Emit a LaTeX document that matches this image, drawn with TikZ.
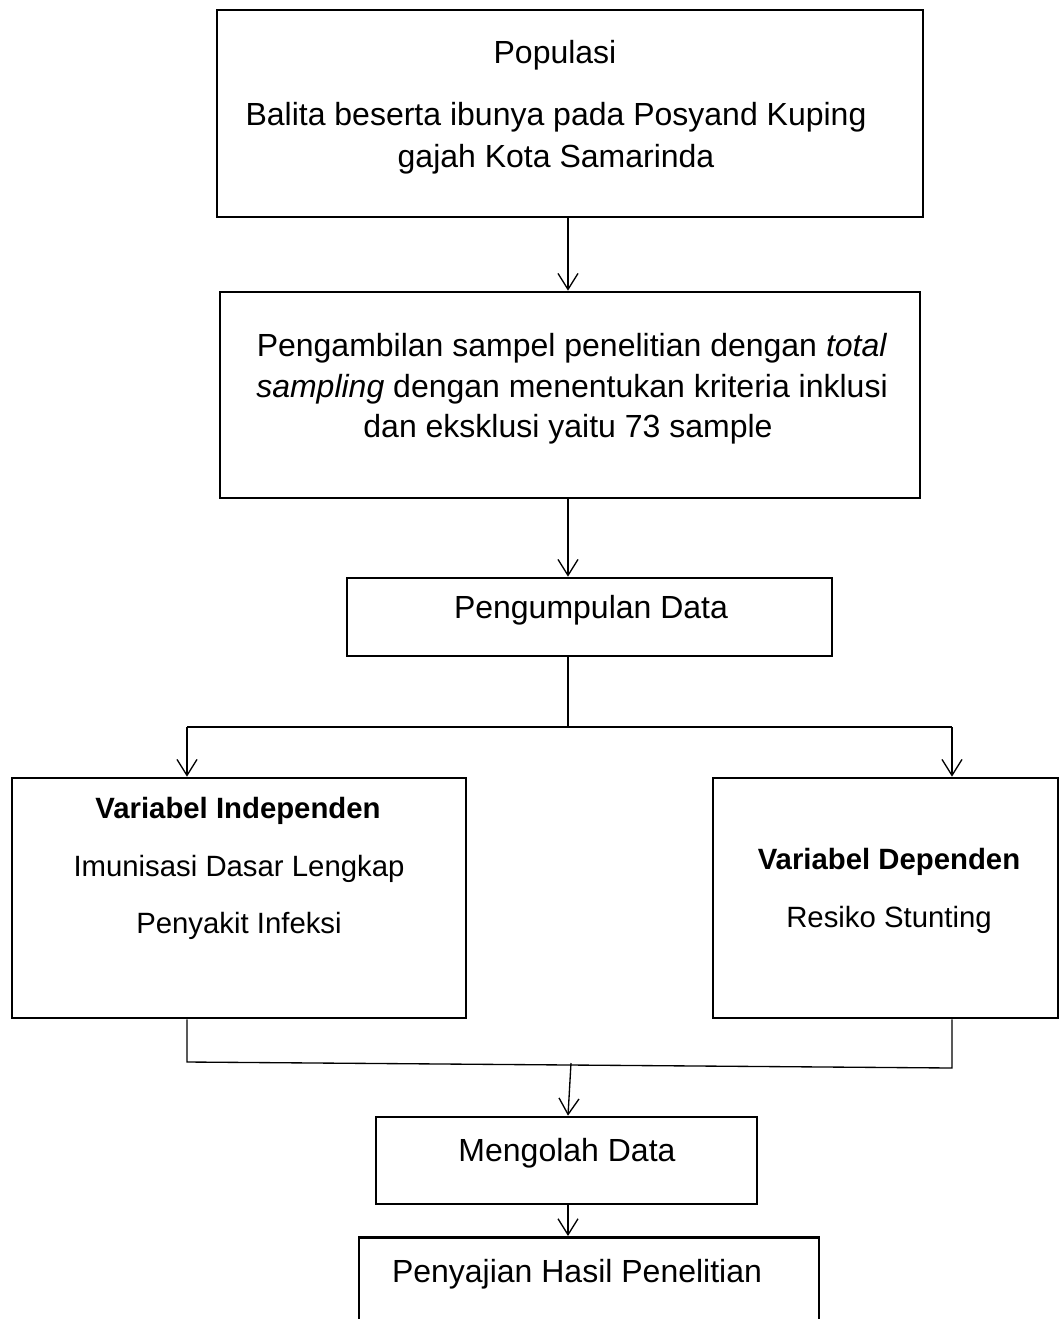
\documentclass[tikz,border=0pt]{standalone}
\usepackage{fontspec}
\setmainfont{Liberation Sans}
\usetikzlibrary{arrows.meta}

% satuan: 1 piksel gambar
\newcommand{\px}{0.375pt}

\tikzset{
    kotak/.style={draw, line width=1pt, inner sep=0pt},
    panah/.style={-{Straight Barb[length=6pt,width=7.5pt]}, line width=0.5pt},
    garis/.style={line width=0.5pt},
    teks/.style={font=\fontsize{12}{14}\selectfont, inner sep=0pt, anchor=base},
    teksvar/.style={font=\fontsize{11}{13}\selectfont, inner sep=0pt, anchor=base}
}

\begin{document}
\begin{tikzpicture}[x=\px, y=-\px]
            \useasboundingbox (0,0) rectangle (1059,1319);
            \clip (0,0) rectangle (1059,1319);

            % kotak-kotak alur
            \node[kotak, minimum width=706*\px, minimum height=207*\px] (populasi) at (570,113.5) {};
            \node[kotak, minimum width=700*\px, minimum height=206*\px] (sampel) at (570,395) {};
            \node[kotak, minimum width=485*\px, minimum height=78*\px] (data) at (589.5,617) {};
            \node[kotak, minimum width=454*\px, minimum height=240*\px] (indep) at (239,898) {};
            \node[kotak, minimum width=345*\px, minimum height=240*\px] (dep) at (885.5,898) {};
            \node[kotak, minimum width=381*\px, minimum height=87*\px] (olah) at (566.5,1160.5) {};
            \node[kotak, minimum width=460*\px, minimum height=150*\px, anchor=north] (saji) at (589,1236) {}; % terpotong di bawah

            % titik bantu
            \coordinate (poros) at (568,0);
            \coordinate (cabang) at (568,727);
            \coordinate (kiri) at (187,727);
            \coordinate (kanan) at (952,727);
            \coordinate (gabungkiri) at (187,1062);
            \coordinate (gabungkanan) at (952,1068);
            \coordinate (temu) at (571,1063);

            % teks dalam kotak
            \node[teks] (t-populasi) at (555,63) {Populasi};
            \node[teks] (t-balita) at (556,125) {Balita beserta ibunya pada Posyand Kuping};
            \node[teks] (t-gajah) at (556,167) {gajah Kota Samarinda};

            \node[teks] (t-ambil) at (572,356) {Pengambilan sampel penelitian dengan \textit{total}};
            \node[teks] (t-sampling) at (572,397) {\textit{sampling} dengan menentukan kriteria inklusi};
            \node[teks] (t-eksklusi) at (568,437) {dan eksklusi yaitu 73 sample};

            \node[teks] (t-data) at (591,618) {Pengumpulan Data};

            \node[teksvar] (t-indep) at (238,818) {\textbf{Variabel Independen}};
            \node[teksvar] (t-imunisasi) at (239,876) {Imunisasi Dasar Lengkap};
            \node[teksvar] (t-infeksi) at (239,933) {Penyakit Infeksi};

            \node[teksvar] (t-dep) at (889,869) {\textbf{Variabel Dependen}};
            \node[teksvar] (t-stunting) at (889,927) {Resiko Stunting};

            \node[teks] (t-olah) at (567,1161) {Mengolah Data};
            \node[teks] (t-saji) at (577,1282) {Penyajian Hasil Penelitian};

            % panah dan garis penghubung
            \draw[panah] (populasi.south -| poros) -- (sampel.north -| poros);
            \draw[panah] (sampel.south -| poros) -- (data.north -| poros);
            \draw[garis] (data.south -| poros) -- (cabang);
            \draw[garis] (kiri) -- (kanan);
            \draw[panah] (kiri) -- (indep.north -| kiri);
            \draw[panah] (kanan) -- (dep.north -| kanan);

            \draw[garis] (indep.south -| kiri) -- (gabungkiri) -- (gabungkanan) -- (dep.south -| kanan);
            \draw[panah] (temu) -- (olah.north -| poros);
            \draw[panah] (olah.south -| poros) -- (saji.north -| poros);
\end{tikzpicture}
\end{document}
